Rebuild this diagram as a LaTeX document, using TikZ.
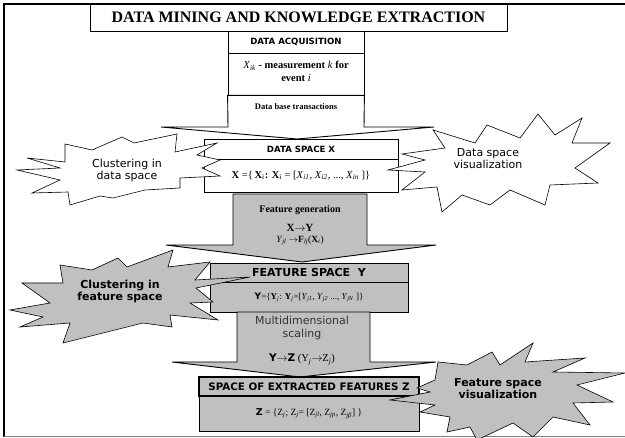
\documentclass[tikz,border=0pt]{standalone}
\usepackage{fontspec}
\setmainfont{Liberation Serif}
\setsansfont{DejaVu Sans}
\definecolor{lightg}{RGB}{192,192,192}
\newcommand{\fsz}[1]{\fontsize{#1}{#1}\selectfont}
\newcommand{\sub}[1]{\textsubscript{#1}}
\tikzset{
  box/.style={draw, line width=0.8pt, inner sep=0pt, fill=white, align=center},
  gbox/.style={box, fill=lightg},
  blkw/.style={draw, line width=0.9pt, line join=miter, fill=white},
  blkg/.style={draw, line width=0.9pt, line join=miter, fill=lightg},
  starw/.style={draw, line width=0.6pt, line join=miter, fill=white},
  starg/.style={draw, line width=0.6pt, line join=miter, fill=lightg},
  txt/.style={inner sep=0pt, align=center},
}
\begin{document}
\begin{tikzpicture}[x=1pt,y=-1pt]
\useasboundingbox (0,0) rectangle (625,438);
% frame
\draw[line width=1.2pt] (4,437) -- (4,4) -- (625,4);
\draw[line width=1.6pt, gray] (4,436.5) -- (625,436.5);
% title
\node[box, minimum width=417pt, minimum height=27pt, font=\bfseries\fsz{16}] (title) at (298.5,17.5) {DATA MINING AND KNOWLEDGE EXTRACTION};
\draw[line width=1.2pt] (title.north east) -- (title.south east) -- (title.south west);
% acquisition
\node[box, minimum width=136pt, minimum height=22pt, font=\sffamily\bfseries\fsz{8.6}] (acq) at (296,42) {DATA ACQUISITION};
\node[box, minimum width=136pt, minimum height=42pt] (meas) at (296,74) {};
\node[txt, font=\bfseries\fsz{10.5}] (meast) at (296,71.5) {\textmd{\textit{X}\sub{\textit{ik}}} - measurement \textmd{\textit{k}} for\\[2pt] event \textmd{\textit{i}}};
% arrow 1
\draw[blkw] (meas.south west) -- (meas.south east) -- (364,127) -- (434,127) -- (297,139) -- (161,127) -- (228,127) -- cycle;
\node[txt, font=\bfseries\fsz{8.5}] (dbt) at (296,107) {Data base transactions};
% data space
\node[box, minimum width=194pt, minimum height=20pt, font=\sffamily\bfseries\fsz{8.6}] (dsx) at (301,149) {DATA SPACE X};
\node[box, minimum width=194pt, minimum height=33pt, font=\fsz{10.5}] (dsf) at (301,175.5) {\textbf{X} =\{\,\textbf{X}\sub{i}\textbf{:} \textbf{X}\sub{i} = [\textit{X}\sub{\textit{i1}}, \textit{X}\sub{\textit{i2}}, ..., \textit{X}\sub{\textit{in}} ]\}};
% arrow 2
\draw[blkg] (233,194) -- (367,194) -- (367,245) -- (436,245) -- (302,262) -- (166,245) -- (233,245) -- cycle;
\node[txt, font=\bfseries\fsz{10}] (fg) at (300,210) {Feature generation};
\node[txt, font=\bfseries\fsz{11}] (xy) at (300,228) {X$\rightarrow$Y};
\node[txt, font=\fsz{9.5}] (yf) at (300,240.5) {\textit{Y}\sub{\textit{jl}} $\rightarrow$\textbf{F}\sub{\textit{lj}}(\textbf{X}\sub{\textit{i}})};
% feature space
\node[gbox, minimum width=198pt, minimum height=19pt, font=\sffamily\bfseries\fsz{11}] (fsy) at (309,272.5) {FEATURE SPACE\ \ Y};
\node[gbox, minimum width=198pt, minimum height=30pt, font=\fsz{9}] (fsf) at (309,297) {\textsf{\textbf{Y}}=\{\textbf{Y}\sub{\textit{j}}: \textbf{Y}\sub{\textit{j}}=[\textit{Y}\sub{\textit{j1}}, \textit{Y}\sub{\textit{j2}} ..., \textit{Y}\sub{\textit{jN}} ]\}};
% arrow 3
\draw[blkg] (237,312) -- (370,312) -- (370,362) -- (436,362) -- (300,377) -- (172,362) -- (237,362) -- cycle;
\node[txt, font=\sffamily\fsz{11}, text=black!80] (mds) at (302,328) {Multidimensional\\[1.5pt] scaling};
\node[txt, font=\fsz{10.5}] (yz) at (302,359.5) {\textsf{\textbf{Y$\rightarrow$Z}} (Y\sub{\textit{j}}$\rightarrow$Z\sub{\textit{j}})};
% extracted
\node[gbox, minimum width=220pt, minimum height=35pt, font=\fsz{9.5}] (zf) at (309,413.5) {\textsf{\textbf{Z}} = \{Z\sub{\textit{j}}; Z\sub{\textit{j}}= [Z\sub{\textit{jl}}, Z\sub{\textit{jp}}, Z\sub{\textit{jβ}}] \}};
\node[gbox, line width=1.1pt, minimum width=220pt, minimum height=19pt, font=\sffamily\bfseries\fsz{10.3}] (zt) at (309,386.5) {SPACE OF EXTRACTED FEATURES Z};
% stars
\draw[starw] (17,170) -- (60,168) -- (27,158) -- (65,162) -- (65,144) -- (92,150) -- (122,137) -- (134,143) -- (177,134) -- (175,152) -- (217,143) -- (197,155) -- (220,160) -- (202,168) -- (220,176) -- (180,178) -- (180,188) -- (145,190) -- (113,198) -- (100,196) -- (70,205) -- (68,192) -- (32,193) -- (60,180) -- cycle;
\node[txt, font=\sffamily\fsz{11}] (s1) at (127,170) {Clustering in\\[1pt] data space};
\draw[starw] (538,114) -- (520,138) -- (487,125) -- (475,143) -- (433,130) -- (445,148) -- (402,154) -- (425,160) -- (388,170) -- (425,172) -- (402,190) -- (437,187) -- (442,212) -- (462,195) -- (490,205) -- (510,190) -- (545,205) -- (550,185) -- (598,183) -- (575,168) -- (610,143) -- (572,143) -- (582,118) -- (555,135) -- cycle;
\node[txt, font=\sffamily\fsz{11}] (s2) at (488,159) {Data space\\[1pt] visualization};
\draw[starg] (10,310) -- (50,303) -- (22,283) -- (63,283) -- (60,265) -- (92,270) -- (118,258) -- (127,267) -- (173,250) -- (168,267) -- (210,262) -- (195,280) -- (250,277) -- (196,288) -- (213,302) -- (190,303) -- (218,320) -- (170,315) -- (172,327) -- (143,323) -- (63,343) -- (70,323) -- (20,327) -- (43,317) -- cycle;
\node[txt, font=\sffamily\bfseries\fsz{11}] (s3) at (120,291.5) {Clustering in\\[1pt] feature space};
\draw[starg] (438,362) -- (467,365) -- (492,352) -- (500,365) -- (533,343) -- (525,362) -- (585,358) -- (553,372) -- (625,373) -- (577,385) -- (613,402) -- (573,403) -- (590,425) -- (553,417) -- (533,437) -- (513,423) -- (477,440) -- (470,427) -- (447,432) -- (450,417) -- (420,412) -- (435,405) -- (390,400) -- (430,392) -- (417,388) -- (435,380) -- cycle;
\node[txt, font=\sffamily\bfseries\fsz{11}] (s4) at (498,389) {Feature space\\[1pt] visualization};
\end{tikzpicture}
\end{document}
